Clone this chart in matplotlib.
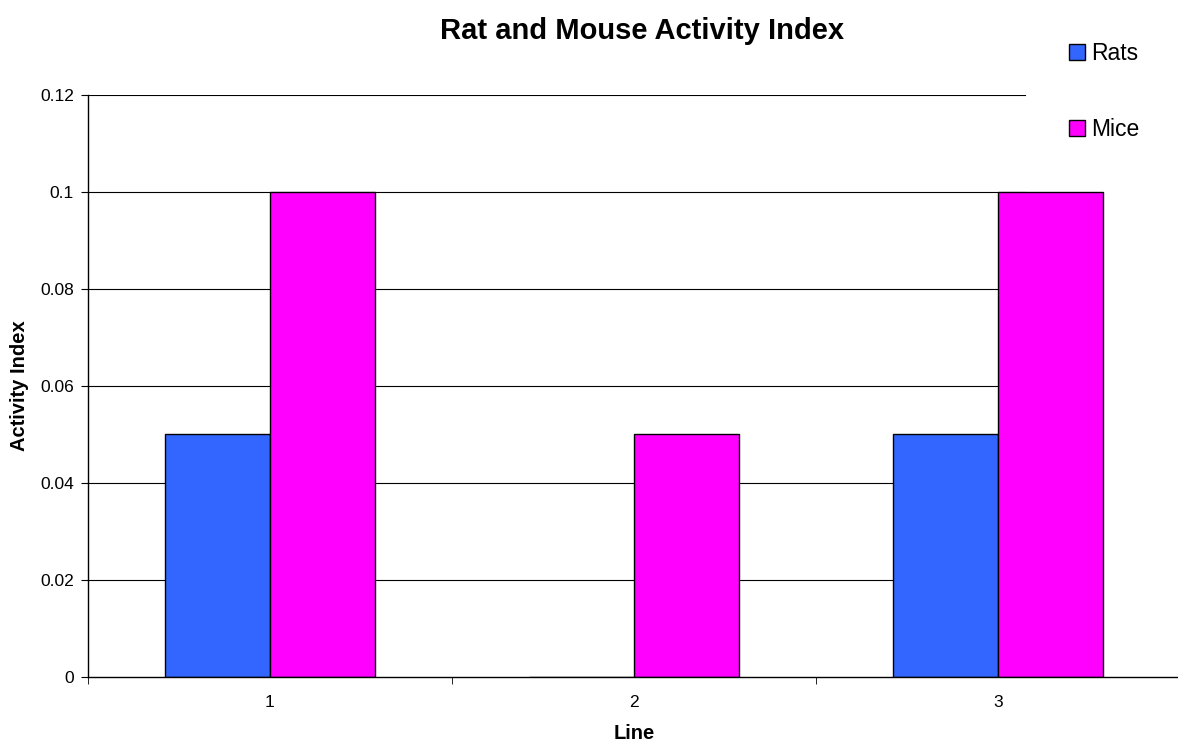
import matplotlib.pyplot as plt
import numpy as np

plt.rcParams['font.family'] = ['Liberation Sans', 'DejaVu Sans']

lines = ['1', '2', '3']
rats = [0.05, 0.0, 0.05]
mice = [0.1, 0.05, 0.1]
yticks = [0, 0.02, 0.04, 0.06, 0.08, 0.1, 0.12]

fig = plt.figure(figsize=(11.78, 7.44), dpi=100)
ax = fig.add_axes([0.0747, 0.0901, 0.927, 0.7822])

x = np.arange(1, len(lines) + 1)
w = 0.288
# gridlines stop where the legend sits
for y in yticks[1:]:
    ax.axhline(y, xmin=0, xmax=0.858, color='black', lw=0.8, zorder=0)
ax.bar(x - w / 2, rats, w, color='#3366FF', edgecolor='black', lw=1, label='Rats', zorder=2)
ax.bar(x + w / 2, mice, w, color='#FF00FF', edgecolor='black', lw=1, label='Mice', zorder=2)

ax.set_xlim(0.5, 3.5)
ax.set_ylim(0, 0.12)
ax.set_yticks(yticks)
ax.set_yticklabels(['0', '0.02', '0.04', '0.06', '0.08', '0.1', '0.12'])
ax.set_xticks(x)
ax.set_xticklabels(lines)
ax.set_xticks([0.5, 1.5, 2.5, 3.5], minor=True)
ax.tick_params(axis='x', which='major', length=0, pad=13, labelsize=12.5)
ax.tick_params(axis='x', which='minor', length=5, direction='out')
ax.tick_params(axis='y', length=5, direction='out', labelsize=12.5, pad=5)
for s in ['top', 'right']:
    ax.spines[s].set_visible(False)
ax.spines['left'].set_linewidth(1)
ax.spines['bottom'].set_linewidth(1)

ax.set_ylabel('Activity Index', fontsize=14.5, fontweight='bold', labelpad=8)
ax.set_xlabel('Line', fontsize=14.5, fontweight='bold', labelpad=10)
fig.text(0.545, 0.958, 'Rat and Mouse Activity Index', ha='center', va='center',
         fontsize=21, fontweight='bold')

leg = fig.legend(loc='upper left', bbox_to_anchor=(0.890, 0.971), frameon=False,
                 fontsize=16.5, labelspacing=2.3, handlelength=0.7, handleheight=0.7,
                 handletextpad=0.25)

fig.savefig('out.png', dpi=100)
